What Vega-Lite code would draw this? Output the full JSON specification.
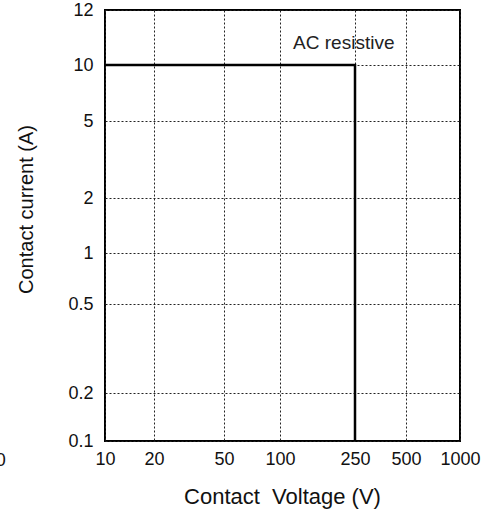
{
  "$schema": "https://vega.github.io/schema/vega-lite/v6.json",
  "width": 355,
  "height": 431,
  "autosize": {"type": "none"},
  "padding": {"left": 105, "top": 10, "right": 33, "bottom": 77},
  "background": "white",
  "config": {
    "font": "Liberation Sans",
    "view": {"stroke": "black", "strokeWidth": 2},
    "axis": {
      "domain": false,
      "ticks": false,
      "grid": true,
      "gridColor": "#222",
      "gridDash": [2, 2],
      "gridWidth": 1,
      "gridOpacity": 1,
      "labelFont": "Liberation Sans",
      "labelFontSize": 18,
      "labelColor": "#111",
      "labelOverlap": false,
      "labelFlush": false,
      "titleFont": "Liberation Sans",
      "titleFontSize": 20,
      "titleFontWeight": "normal",
      "titleColor": "#111"
    }
  },
  "datasets": {
    "limit": [
      {"voltage": 10, "current": 10},
      {"voltage": 250, "current": 10},
      {"voltage": 250, "current": 0.1}
    ],
    "label": [
      {"voltage": 218, "current": 10.76, "text": "AC resistive"}
    ],
    "stray": [
      {"voltage": 2.46, "current": 0.1, "text": "0"}
    ]
  },
  "layer": [
    {
      "data": {"name": "limit"},
      "mark": {"type": "line", "color": "black", "strokeWidth": 2.5, "clip": false},
      "encoding": {
        "x": {
          "field": "voltage",
          "type": "quantitative",
          "sort": null,
          "scale": {"type": "log", "domain": [10, 20, 50, 100, 250, 500, 1000], "range": [0, 49, 119, 175, 250, 301, 355], "nice": false, "zero": false},
          "axis": {"values": [10, 20, 50, 100, 250, 500, 1000], "format": "~g", "labelPadding": 9, "title": "Contact\u00a0\u00a0Voltage (V)", "titleFontSize": 22, "titleX": 177, "titleY": 55, "titleBaseline": "middle", "titleAlign": "center"}
        },
        "y": {
          "field": "current",
          "type": "quantitative",
          "scale": {"type": "log", "domain": [0.1, 0.2, 0.5, 1, 2, 5, 10, 12], "range": [431, 383, 294, 243, 188, 111, 55, 0], "nice": false, "zero": false},
          "axis": {"values": [0.1, 0.2, 0.5, 1, 2, 5, 10, 12], "format": "~g", "labelPadding": 12, "title": "Contact current (A)", "titleX": -79, "titleY": 199, "titleBaseline": "middle", "titleAlign": "center", "titleAngle": -90}
        },
        "order": {"field": "voltage", "type": "quantitative"}
      }
    },
    {
      "data": {"name": "label"},
      "mark": {"type": "text", "fontSize": 19, "font": "Liberation Sans", "color": "#222", "baseline": "middle", "align": "center"},
      "encoding": {
        "x": {"field": "voltage", "type": "quantitative"},
        "y": {"field": "current", "type": "quantitative"},
        "text": {"field": "text"}
      }
    },
    {
      "data": {"name": "stray"},
      "mark": {"type": "text", "fontSize": 18, "font": "Liberation Sans", "color": "#111", "baseline": "top", "align": "right", "dy": 11, "clip": false},
      "encoding": {
        "x": {"field": "voltage", "type": "quantitative"},
        "y": {"field": "current", "type": "quantitative"},
        "text": {"field": "text"}
      }
    }
  ]
}
